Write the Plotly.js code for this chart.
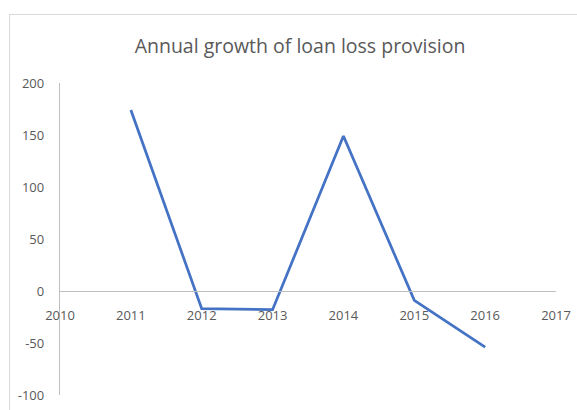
<!DOCTYPE html>
<html>
<head>
<meta charset="utf-8">
<script src="https://cdn.plot.ly/plotly-3.0.1.min.js"></script>
<style>
  html, body { margin: 0; padding: 0; background: #ffffff; overflow: hidden; }
  #frame { position: absolute; left: 9px; top: 14px; width: 700px; height: 600px;
           border-left: 1.5px solid #d9d9d9; border-top: 1.5px solid #d9d9d9; }
  #chart { position: absolute; left: 0; top: 0; width: 577px; height: 410px; }
</style>
</head>
<body>
<div id="frame"></div>
<div id="chart"></div>
<script>
const years = [2011, 2012, 2013, 2014, 2015, 2016];
const growth = [174, -17, -18, 149, -9, -54];
const xTicks = [2010, 2011, 2012, 2013, 2014, 2015, 2016, 2017];
const yTicks = [-100, -50, 0, 50, 100, 150, 200];
const titleText = "Annual growth of loan loss provision";

const yMin = -100, yMax = 200;
const fontFam = "'Open Sans', 'Liberation Sans', sans-serif";

const trace = {
  x: years,
  y: growth,
  type: "scatter",
  mode: "lines",
  line: { color: "#4472C4", width: 2.75 },
  hoverinfo: "skip"
};

const layout = {
  width: 577,
  height: 410,
  margin: { l: 60, r: 21, t: 83, b: 15 },
  paper_bgcolor: "rgba(0,0,0,0)",
  plot_bgcolor: "rgba(0,0,0,0)",
  showlegend: false,
  title: {
    text: titleText,
    font: { family: fontFam, size: 19.5, color: "#595959" },
    x: 0.52, xanchor: "center", xref: "container",
    y: 1 - 46 / 410, yanchor: "middle", yref: "container"
  },
  xaxis: {
    range: [xTicks[0], xTicks[xTicks.length - 1]],
    tickvals: xTicks,
    ticktext: xTicks.map(String),
    showgrid: false,
    zeroline: false,
    showline: true,
    linecolor: "#bfbfbf",
    linewidth: 1.2,
    ticks: "",
    anchor: "free",
    position: (0 - yMin) / (yMax - yMin),
    ticklabelstandoff: 12,
    tickfont: { family: fontFam, size: 13, color: "#595959" },
    fixedrange: true
  },
  yaxis: {
    range: [yMin, yMax],
    tickvals: yTicks,
    ticktext: yTicks.map(String),
    showgrid: false,
    zeroline: false,
    showline: true,
    linecolor: "#bfbfbf",
    linewidth: 1.2,
    ticks: "",
    ticklabelstandoff: 12,
    tickfont: { family: fontFam, size: 13, color: "#595959" },
    fixedrange: true
  }
};

Plotly.newPlot("chart", [trace], layout, { displayModeBar: false, staticPlot: true });
</script>
</body>
</html>
